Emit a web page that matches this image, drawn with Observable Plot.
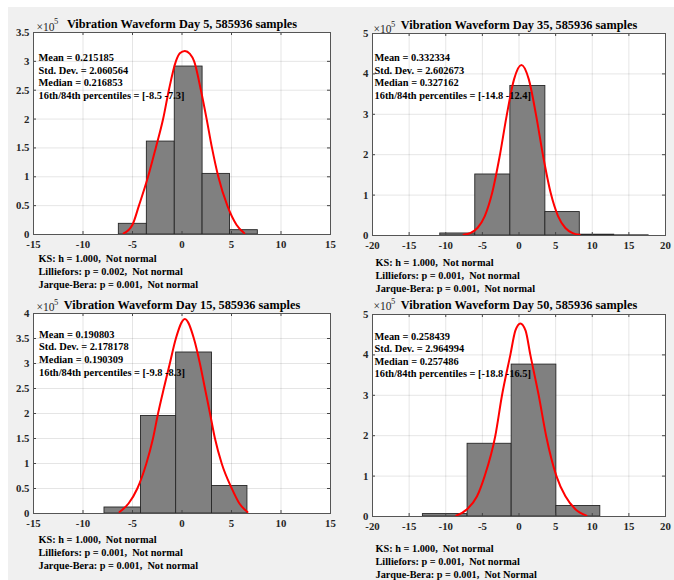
<!DOCTYPE html>
<html><head><meta charset="utf-8">
<script src="https://cdn.jsdelivr.net/npm/d3@7"></script>
<script src="https://cdn.jsdelivr.net/npm/@observablehq/plot@0.6"></script>
<style>
html,body{margin:0;padding:0;background:#fff;}
#fig{position:relative;width:674px;height:580px;overflow:hidden;}
#bg{position:absolute;left:8px;top:7px;width:666px;height:573px;background:#f0f0f0;}
.panel{position:absolute;width:337px;height:290px;}
svg text{white-space:pre;}
</style></head>
<body><div id="fig"><div id="bg"></div></div>
<script>
// ---------- data (counts in units of 10^5) ----------
const titles = [
  "Vibration Waveform Day 5, 585936 samples",
  "Vibration Waveform Day 35, 585936 samples",
  "Vibration Waveform Day 15, 585936 samples",
  "Vibration Waveform Day 50, 585936 samples"
];
const multiplierBase = "×10";
const multiplierExp = "5";

const day5Edges  = [-6.38, -3.55, -0.73, 2.08, 4.85, 7.66];
const day5Counts = [0.185, 1.61, 2.91, 1.05, 0.075];
const day5CurveX = [-5.9, -5.0, -4.35, -3.43, -2.65, -1.91, -1.33, -0.62, -0.22, 0.29, 0.8, 1.23, 1.91, 2.49, 3.03, 3.67, 4.58, 5.5, 6.3];
const day5CurveY = [0.02, 0.17, 0.5, 1.0, 1.5, 2.0, 2.5, 3.0, 3.14, 3.18, 3.13, 3.0, 2.5, 2.0, 1.5, 1.0, 0.5, 0.17, 0.02];

const day35Edges  = [-10.75, -5.97, -1.18, 3.6, 8.3, 13.0, 17.7];
const day35Counts = [0.05, 1.51, 3.70, 0.58, 0.02, 0.004];
const day35CurveX = [-7.56, -6.67, -5.67, -4.67, -3.67, -2.67, -1.67, -0.67, 0.33, 1.33, 2.33, 3.33, 4.33, 5.33, 6.33, 7.33, 8.29];
const day35CurveY = [0.02, 0.06, 0.185, 0.48, 1.05, 1.93, 2.98, 3.87, 4.22, 3.87, 2.98, 1.93, 1.05, 0.48, 0.185, 0.06, 0.02];

const day15Edges  = [-7.83, -4.14, -0.59, 3.03, 6.61];
const day15Counts = [0.12, 1.95, 3.22, 0.55];
const day15CurveX = [-6.31, -5.4, -4.51, -3.6, -2.93, -2.42, -1.84, -1.23, -0.62, 0.29, 1.2, 1.81, 2.32, 2.83, 3.33, 4.01, 5.03, 5.8, 6.61];
const day15CurveY = [0.03, 0.2, 0.5, 1.0, 1.5, 2.0, 2.5, 3.0, 3.5, 3.89, 3.5, 3.0, 2.5, 2.0, 1.5, 1.0, 0.5, 0.2, 0.03];

const day50Edges  = [-13.12, -7.02, -1.0, 5.1, 11.1];
const day50Counts = [0.06, 1.80, 3.76, 0.26];
const day50CurveX = [-8.56, -7.1, -5.73, -4.69, -3.23, -2.32, -1.18, -0.5, 0.19, 0.9, 1.55, 2.69, 3.7, 5.11, 6.34, 7.7, 9.2];
const day50CurveY = [0.02, 0.18, 0.5, 1.0, 2.0, 3.0, 4.0, 4.6, 4.78, 4.6, 4.0, 3.0, 2.0, 1.0, 0.5, 0.18, 0.02];

const statsDay5  = ["Mean = 0.215185", "Std. Dev. = 2.060564", "Median = 0.216853", "16th/84th percentiles = [-8.5 -7.3]"];
const statsDay35 = ["Mean = 0.332334", "Std. Dev. = 2.602673", "Median = 0.327162", "16th/84th percentiles = [-14.8 -12.4]"];
const statsDay15 = ["Mean = 0.190803", "Std. Dev. = 2.178178", "Median = 0.190309", "16th/84th percentiles = [-9.8 -8.3]"];
const statsDay50 = ["Mean = 0.258439", "Std. Dev. = 2.964994", "Median = 0.257486", "16th/84th percentiles = [-18.8 -16.5]"];

const testsDay5  = ["KS: h = 1.000,  Not normal", "Lilliefors: p = 0.002,  Not normal", "Jarque-Bera: p = 0.001,  Not normal"];
const testsDay35 = ["KS: h = 1.000,  Not normal", "Lilliefors: p = 0.001,  Not normal", "Jarque-Bera: p = 0.001,  Not normal"];
const testsDay15 = ["KS: h = 1.000,  Not normal", "Lilliefors: p = 0.001,  Not normal", "Jarque-Bera: p = 0.001,  Not normal"];
const testsDay50 = ["KS: h = 1.000,  Not normal", "Lilliefors: p = 0.001,  Not normal", "Jarque-Bera: p = 0.001,  Not Normal"];

const xTicks15 = [-15, -10, -5, 0, 5, 10, 15];
const xLabels15 = ["-15", "-10", "-5", "0", "5", "10", "15"];
const xTicks20 = [-20, -15, -10, -5, 0, 5, 10, 15, 20];
const xLabels20 = ["-20", "-15", "-10", "-5", "0", "5", "10", "15", "20"];
const yTicks35 = [0, 0.5, 1, 1.5, 2, 2.5, 3, 3.5];
const yLabels35 = ["0", "0.5", "1", "1.5", "2", "2.5", "3", "3.5"];
const yTicks4 = [0, 0.5, 1, 1.5, 2, 2.5, 3, 3.5, 4];
const yLabels4 = ["0", "0.5", "1", "1.5", "2", "2.5", "3", "3.5", "4"];
const yTicks5 = [0, 1, 2, 3, 4, 5];
const yLabels5 = ["0", "1", "2", "3", "4", "5"];

// ---------- layout (styles / positions) ----------
const panels = [
  {title: titles[0], edges: day5Edges, counts: day5Counts, cx: day5CurveX, cy: day5CurveY, stats: statsDay5, tests: testsDay5,
   xt: xTicks15, xl: xLabels15, yt: yTicks35, yl: yLabels35,
   left: 0, top: 0, ml: 33, mr: 7, mt: 32, mb: 56,
   titleDy: -8, expDx: 3, expDy: -5.3, supDx: 20.5, supDy: -11, statsDx: 5, statsDy: 25.3, testsDx: 5, testsDy: 24.3},
  {title: titles[1], edges: day35Edges, counts: day35Counts, cx: day35CurveX, cy: day35CurveY, stats: statsDay35, tests: testsDay35,
   xt: xTicks20, xl: xLabels20, yt: yTicks5, yl: yLabels5,
   left: 337, top: 0, ml: 35, mr: 9, mt: 33, mb: 55,
   titleDy: -8, expDx: 1, expDy: -3.7, supDx: 18.5, supDy: -9.7, statsDx: 2, statsDy: 24.3, testsDx: 3, testsDy: 27},
  {title: titles[2], edges: day15Edges, counts: day15Counts, cx: day15CurveX, cy: day15CurveY, stats: statsDay15, tests: testsDay15,
   xt: xTicks15, xl: xLabels15, yt: yTicks4, yl: yLabels4,
   left: 0, top: 290, ml: 33, mr: 7, mt: 23, mb: 67,
   titleDy: -8, expDx: 3, expDy: -6.3, supDx: 20.5, supDy: -11.5, statsDx: 5.5, statsDy: 21, testsDx: 5, testsDy: 26.7},
  {title: titles[3], edges: day50Edges, counts: day50Counts, cx: day50CurveX, cy: day50CurveY, stats: statsDay50, tests: testsDay50,
   xt: xTicks20, xl: xLabels20, yt: yTicks5, yl: yLabels5,
   left: 337, top: 290, ml: 35, mr: 9, mt: 24, mb: 64,
   titleDy: -9, expDx: 1, expDy: -8, supDx: 18.5, supDy: -13.3, statsDx: 2, statsDy: 21.7, testsDx: 3, testsDy: 32}
];

const W = 337, H = 290;
const serif = "'Liberation Serif', 'Times New Roman', serif";
const fig = document.getElementById("fig");

for (const p of panels) {
  const bars = p.counts.map((c, i) => ({x1: p.edges[i], x2: p.edges[i + 1], y: c}));
  const curve = p.cx.map((x, i) => ({x, y: p.cy[i]}));
  const plotW = W - p.ml - p.mr, plotH = H - p.mt - p.mb;
  const xd = [p.xt[0], p.xt[p.xt.length - 1]];
  const yd = [p.yt[0], p.yt[p.yt.length - 1]];
  const textOpts = {fontFamily: serif, fontWeight: "bold", fill: "#000", lineAnchor: "middle"};

  const marks = [
    Plot.frame({fill: "white"}),
    Plot.gridX(p.xt, {stroke: "#000", strokeOpacity: 0.1}),
    Plot.gridY(p.yt, {stroke: "#000", strokeOpacity: 0.1}),
    Plot.rect(bars, {x1: "x1", x2: "x2", y1: 0, y2: "y", fill: "#808080", stroke: "#262626", strokeWidth: 0.9}),
    Plot.line(curve, {x: "x", y: "y", stroke: "#ff0000", strokeWidth: 2, curve: "monotone-x"}),
    // inward ticks on all four sides
    Plot.tickX(p.xt, {stroke: "#444", insetTop: plotH - 3}),
    Plot.tickX(p.xt, {stroke: "#444", insetBottom: plotH - 3}),
    Plot.tickY(p.yt, {stroke: "#444", insetRight: plotW - 3}),
    Plot.tickY(p.yt, {stroke: "#444", insetLeft: plotW - 3}),
    Plot.axisX(p.xt, {anchor: "bottom", tickSize: 0, tickPadding: 6, tickFormat: d => p.xl[p.xt.indexOf(d)], fontSize: 10.8, fontWeight: "bold", fill: "#262626"}),
    Plot.axisY(p.yt, {anchor: "left", tickSize: 0, tickPadding: 4, tickFormat: d => p.yl[p.yt.indexOf(d)], fontSize: 10.8, fontWeight: "bold", fill: "#262626"}),
    Plot.frame({stroke: "#555", strokeWidth: 1}),
    Plot.text([p.title], {text: d => d, frameAnchor: "top", dy: p.titleDy, textAnchor: "middle", fontSize: 12.3, ...textOpts}),
    Plot.text([multiplierBase], {text: d => d, frameAnchor: "top-left", dx: p.expDx, dy: p.expDy, textAnchor: "start", lineAnchor: "middle", fontSize: 11.5, fontFamily: serif, fill: "#262626"}),
    Plot.text([multiplierExp], {text: d => d, frameAnchor: "top-left", dx: p.supDx, dy: p.supDy, textAnchor: "start", lineAnchor: "middle", fontSize: 8.5, fontFamily: serif, fill: "#262626"}),
    ...p.stats.map((s, i) => Plot.text([s], {text: d => d, frameAnchor: "top-left", dx: p.statsDx, dy: p.statsDy + i * 12.6, textAnchor: "start", fontSize: 10.4, ...textOpts})),
    ...p.tests.map((s, i) => Plot.text([s], {text: d => d, frameAnchor: "bottom-left", dx: p.testsDx, dy: p.testsDy + i * 12.9, textAnchor: "start", fontSize: 10.3, ...textOpts}))
  ];

  const svg = Plot.plot({
    width: W, height: H,
    marginLeft: p.ml, marginRight: p.mr, marginTop: p.mt, marginBottom: p.mb,
    x: {domain: xd, label: null},
    y: {domain: yd, label: null},
    style: {background: "transparent", overflow: "visible", fontFamily: serif},
    marks
  });
  const div = document.createElement("div");
  div.className = "panel";
  div.style.left = p.left + "px";
  div.style.top = p.top + "px";
  div.appendChild(svg);
  fig.appendChild(div);
}
</script>
</body></html>
